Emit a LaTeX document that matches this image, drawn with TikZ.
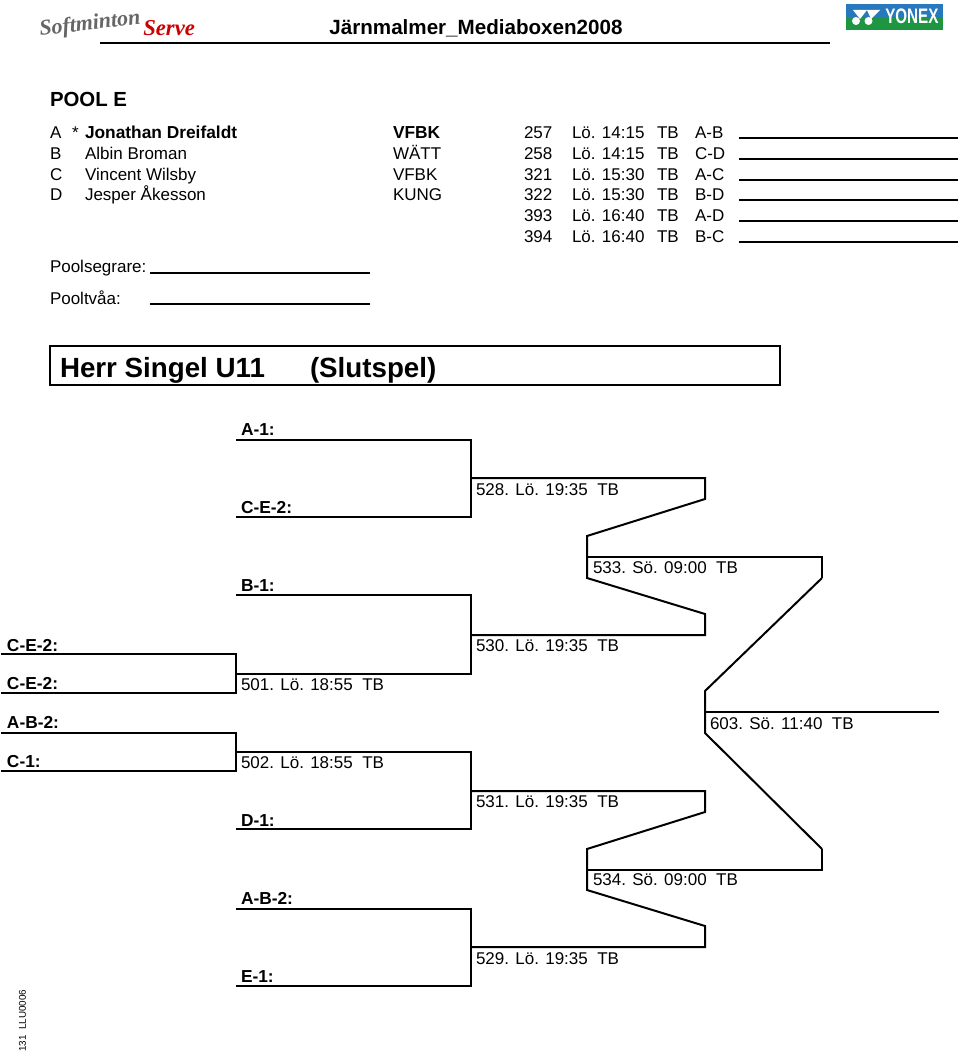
\documentclass[tikz,border=0pt]{standalone}
\usepackage{fontspec}
\setmainfont{Liberation Sans}
\newfontfamily\logofont{Liberation Serif}
\usetikzlibrary{positioning, calc}

\definecolor{yonexblue}{RGB}{40,120,190}
\definecolor{yonexgreen}{RGB}{30,150,65}

\begin{document}
\begin{tikzpicture}[
  x=0.75pt, y=-0.75pt,
  font=\fontsize{12.75pt}{15pt}\selectfont,
  txt/.style={anchor=base west, inner sep=0pt, outer sep=0pt},
  bold/.style={txt, font=\fontsize{13pt}{15pt}\selectfont\bfseries},
  wire/.style={line width=1.5pt, line join=miter},
  fillin/.style={line width=1.5pt},
]
\useasboundingbox (0,0) rectangle (960,1056);

%% Logos
\node[anchor=base west, inner sep=0pt, text=gray!80!black, rotate=7,
      font=\fontsize{16.5pt}{17pt}\logofont\itshape\bfseries] (softminton) at (40,36) {Softminton};
\node[anchor=base west, inner sep=0pt, text=red!80!black,
      font=\fontsize{17pt}{21pt}\logofont\itshape\bfseries] (serve) at (143,36) {Serve};
\fill[yonexblue] (846,4) rectangle (943,17);
\fill[yonexgreen] (846,17) rectangle (943,30);
\fill[white] (856,21) circle (4) (868.5,21) circle (4);
\fill[white] (853,10) -- (867,10) -- (860,19) -- cycle;
\fill[white] (867,10) -- (880,10) -- (871,19) -- cycle;
\node[anchor=base west, inner sep=0pt, text=white,
      font=\fontsize{15pt}{15pt}\selectfont\bfseries] (yonex) at (885,24) {\scalebox{0.76}[1.05]{YONEX}};

%% Header
\node[anchor=base, inner sep=0pt, font=\fontsize{15.45pt}{18pt}\selectfont\bfseries] (title) at (476,35) {Järnmalmer\_Mediaboxen2008};
\coordinate (headl) at (100,43.5);
\coordinate (headr) at (830,43.5);
\draw[fillin] (headl) -- (headr);

%% Pool
\node[txt, font=\fontsize{15.3pt}{18pt}\selectfont\bfseries] (pool) at (50,107) {POOL E};
\node[txt] (la) at (50,138.5) {A};
\node[txt] (lb) at (50,159.5) {B};
\node[txt] (lc) at (50,180) {C};
\node[txt] (ld) at (50,200.5) {D};
\node[txt] (star) at (72,138.5) {*};
\node[bold] (na) at (85,138.5) {Jonathan Dreifaldt};
\node[txt] (nb) at (85,159.5) {Albin Broman};
\node[txt] (nc) at (85,180) {Vincent Wilsby};
\node[txt] (nd) at (85,200.5) {Jesper Åkesson};
\node[bold] (ca) at (393,138.5) {VFBK};
\node[txt] (cb) at (393,159.5) {WÄTT};
\node[txt] (cc) at (393,180) {VFBK};
\node[txt] (cd) at (393,200.5) {KUNG};

%% Matches
\foreach \num/\tim/\pair/\yy in {257/14:15/A-B/138, 258/14:15/C-D/159, 321/15:30/A-C/180,
    322/15:30/B-D/200, 393/16:40/A-D/221, 394/16:40/B-C/242} {
  \node[txt] (m\num) at (524,\yy) {\num};
  \node[txt] (t\num) at (572,\yy) {Lö. \tim};
  \node[txt] (h\num) at (657,\yy) {TB};
  \node[txt] (p\num) at (695,\yy) {\pair};
  \coordinate (sl\num) at (739,\yy);
  \coordinate (sr\num) at (958,\yy);
  \draw[fillin] (sl\num) -- (sr\num);
}

%% Winners
\node[txt] (pseg) at (50,272.5) {Poolsegrare:};
\node[txt] (ptva) at (50,304) {Pooltvåa:};
\coordinate (segl) at (150,272.5);
\coordinate (segr) at (370,272.5);
\coordinate (tval) at (150,304);
\coordinate (tvar) at (370,304);
\draw[fillin] (segl) -- (segr);
\draw[fillin] (tval) -- (tvar);

%% Class
\draw[line width=1.5pt] (50,346) rectangle (780,385);
\node[txt, font=\fontsize{20.8pt}{24pt}\selectfont\bfseries] (klass) at (60,377) {Herr Singel U11};
\node[txt, font=\fontsize{20.8pt}{24pt}\selectfont\bfseries] (slut) at (310,377) {(Slutspel)};

%% Draw entries
\foreach \nm/\xx/\yy/\lab in {e1/241/435/A-1:, e2/241/513/C-E-2:, e3/241/591/B-1:,
    e4/7/651/C-E-2:, e5/7/689/C-E-2:, e6/7/728/A-B-2:, e7/7/767/C-1:,
    e8/241/826/D-1:, e9/241/904/A-B-2:, e10/241/982/E-1:} {
  \node[bold] (\nm) at (\xx,\yy) {\lab};
}

%% Match labels
\foreach \nm/\xx/\yy/\lab in {g501/241/690/501. Lö. 18:55\ \ TB, g502/241/768/502. Lö. 18:55\ \ TB,
    g528/476/495/528. Lö. 19:35\ \ TB, g530/476/651/530. Lö. 19:35\ \ TB,
    g531/476/807/531. Lö. 19:35\ \ TB, g529/476/964/529. Lö. 19:35\ \ TB,
    g533/593/573/533. Sö. 09:00\ \ TB, g534/593/885/534. Sö. 09:00\ \ TB,
    g603/710/729/603. Sö. 11:40\ \ TB} {
  \node[txt] (\nm) at (\xx,\yy) {\lab};
}

%% First round
\coordinate (a1l) at (236,440);  \coordinate (a1r) at (471,440);
\coordinate (a2l) at (236,517);  \coordinate (a2r) at (471,517);
\coordinate (b1l) at (236,595);  \coordinate (b1r) at (471,595);
\coordinate (c1l) at (1,654);    \coordinate (c1r) at (236,654);
\coordinate (c2l) at (1,693);    \coordinate (c2r) at (236,693);
\coordinate (c3l) at (1,733);    \coordinate (c3r) at (236,733);
\coordinate (c4l) at (1,771);    \coordinate (c4r) at (236,771);
\coordinate (d1l) at (236,829);  \coordinate (d1r) at (471,829);
\coordinate (d2l) at (236,909);  \coordinate (d2r) at (471,909);
\coordinate (d3l) at (236,986);  \coordinate (d3r) at (471,986);

\draw[wire] (c1l) -- (c1r) -- (c2r) -- (c2l);
\draw[wire] (c3l) -- (c3r) -- (c4r) -- (c4l);
\coordinate (m501) at (236,674);  \coordinate (m501r) at (471,674);
\coordinate (m502) at (236,752);  \coordinate (m502r) at (471,752);

%% Second round
\draw[wire] (a1l) -- (a1r) -- (a2r) -- (a2l);
\draw[wire] (b1l) -- (b1r) -- (m501r) -- (m501);
\draw[wire] (m502) -- (m502r) -- (d1r) -- (d1l);
\draw[wire] (d2l) -- (d2r) -- (d3r) -- (d3l);
\coordinate (m528) at (471,478);  \coordinate (m528r) at (705,478);  \coordinate (m528b) at (705,499);
\coordinate (m530) at (471,635);  \coordinate (m530r) at (705,635);  \coordinate (m530t) at (705,614);
\coordinate (m531) at (471,791);  \coordinate (m531r) at (705,791);  \coordinate (m531b) at (705,812);
\coordinate (m529) at (471,947);  \coordinate (m529r) at (705,947);  \coordinate (m529t) at (705,926);

%% Semi finals
\coordinate (m533t) at (587,536);  \coordinate (m533b) at (587,578);
\coordinate (m533) at (587,557);   \coordinate (m533r) at (822,557);  \coordinate (m533e) at (822,578);
\coordinate (m534t) at (587,849);  \coordinate (m534b) at (587,890);
\coordinate (m534) at (587,870);   \coordinate (m534r) at (822,870);  \coordinate (m534e) at (822,849);
\draw[wire] (m528) -- (m528r) -- (m528b) -- (m533t) -- (m533b) -- (m530t) -- (m530r) -- (m530);
\draw[wire] (m531) -- (m531r) -- (m531b) -- (m534t) -- (m534b) -- (m529t) -- (m529r) -- (m529);
\draw[wire] (m533) -- (m533r) -- (m533e);
\draw[wire] (m534) -- (m534r) -- (m534e);

%% Final
\coordinate (m603t) at (705,691);  \coordinate (m603b) at (705,733);
\coordinate (m603) at (705,712);   \coordinate (m603r) at (939,712);
\draw[wire] (m533e) -- (m603t) -- (m603b) -- (m534e);
\draw[line width=1.2pt] (m603) -- (m603r);

%% Footer
\node[anchor=base west, inner sep=0pt, rotate=90, font=\fontsize{7.4pt}{9pt}\selectfont] (foot) at (26,1052) {131\ \ LLU0006};
\end{tikzpicture}
\end{document}
